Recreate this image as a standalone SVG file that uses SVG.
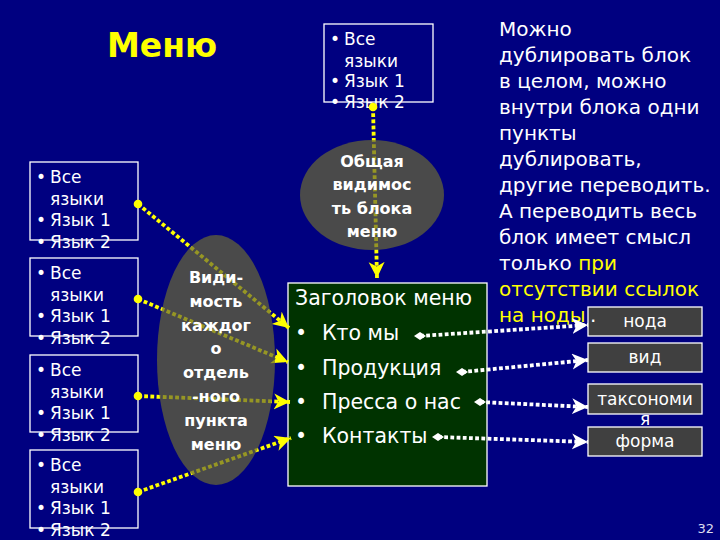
<svg xmlns="http://www.w3.org/2000/svg" width="720" height="540" viewBox="0 0 720 540">
<style>
text{font-family:"DejaVu Sans","Liberation Sans",sans-serif;fill:#fff}
.lb{fill:none;stroke:#fff;stroke-width:1.3}
.lt{font-size:17px}
.el{font-size:16px;font-weight:bold;text-anchor:middle}
.rb{fill:#404040;stroke:#fff;stroke-width:1.3}
.rt{font-size:17px;text-anchor:middle}
.gt{font-size:20.5px}
.nt{font-size:20px}
.y{fill:#ffff00}
.cy{fill:none;stroke:#ffff00;stroke-width:3.8;stroke-dasharray:3.8 2.4}
.cw{fill:none;stroke:#fff;stroke-width:3.8;stroke-dasharray:3.8 2.4}
.ell{fill:#6a6a33;fill-opacity:0.7}
</style>
<defs>
<marker id="ay" markerUnits="userSpaceOnUse" markerWidth="20" markerHeight="18" refX="16" refY="8" orient="auto" viewBox="0 0 20 18"><path d="M0,0 L16,8 L0,16 L4.5,8 Z" fill="#ffff00"/></marker>
<marker id="aw" markerUnits="userSpaceOnUse" markerWidth="20" markerHeight="18" refX="16" refY="8" orient="auto" viewBox="0 0 20 18"><path d="M0,0 L16,8 L0,16 L4.5,8 Z" fill="#ffffff"/></marker>
<marker id="dy" markerUnits="userSpaceOnUse" markerWidth="10" markerHeight="10" refX="5" refY="5" viewBox="0 0 10 10"><circle cx="5" cy="5" r="4.3" fill="#ffff00"/></marker>
<marker id="dw" markerUnits="userSpaceOnUse" markerWidth="12" markerHeight="10" refX="6" refY="5" viewBox="0 0 12 10"><path d="M0,5 L6,1 L12,5 L6,9 Z" fill="#ffffff"/></marker>
</defs>
<rect width="720" height="540" fill="#000080"/>
<g id="title"><text x="107" y="57" style="font-size:33px;font-weight:bold" class="y">Меню</text></g>
<g id="lang-1"><rect class="lb" x="30" y="162" width="108" height="78"/><text class="lt"><tspan x="36" y="183">•</tspan><tspan x="50" y="183">Все</tspan><tspan x="50" y="205">языки</tspan><tspan x="36" y="226">•</tspan><tspan x="50" y="226">Язык 1</tspan><tspan x="36" y="248">•</tspan><tspan x="50" y="248">Язык 2</tspan></text></g>
<g id="lang-2"><rect class="lb" x="30" y="258" width="108" height="78"/><text class="lt"><tspan x="36" y="279">•</tspan><tspan x="50" y="279">Все</tspan><tspan x="50" y="301">языки</tspan><tspan x="36" y="322">•</tspan><tspan x="50" y="322">Язык 1</tspan><tspan x="36" y="344">•</tspan><tspan x="50" y="344">Язык 2</tspan></text></g>
<g id="lang-3"><rect class="lb" x="30" y="355" width="108" height="77"/><text class="lt"><tspan x="36" y="376">•</tspan><tspan x="50" y="376">Все</tspan><tspan x="50" y="398">языки</tspan><tspan x="36" y="419">•</tspan><tspan x="50" y="419">Язык 1</tspan><tspan x="36" y="441">•</tspan><tspan x="50" y="441">Язык 2</tspan></text></g>
<g id="lang-4"><rect class="lb" x="30" y="450" width="108" height="78"/><text class="lt"><tspan x="36" y="471">•</tspan><tspan x="50" y="471">Все</tspan><tspan x="50" y="493">языки</tspan><tspan x="36" y="514">•</tspan><tspan x="50" y="514">Язык 1</tspan><tspan x="36" y="536">•</tspan><tspan x="50" y="536">Язык 2</tspan></text></g>
<g id="lang-top"><rect class="lb" x="324" y="24" width="109" height="78"/><text class="lt"><tspan x="330" y="45">•</tspan><tspan x="344" y="45">Все</tspan><tspan x="344" y="67">языки</tspan><tspan x="330" y="87">•</tspan><tspan x="344" y="87">Язык 1</tspan><tspan x="330" y="108">•</tspan><tspan x="344" y="108">Язык 2</tspan></text></g>
<g id="menu-block"><rect x="288" y="283" width="199" height="203" fill="#003300" stroke="#fff" stroke-width="1.3"/><text class="gt"><tspan x="295" y="305">Заголовок меню</tspan><tspan x="295" y="340">•</tspan><tspan x="322" y="340">Кто мы</tspan><tspan x="295" y="375">•</tspan><tspan x="322" y="375">Продукция</tspan><tspan x="295" y="409">•</tspan><tspan x="322" y="409">Пресса о нас</tspan><tspan x="295" y="443">•</tspan><tspan x="322" y="443">Контакты</tspan></text></g>
<g id="note"><text class="nt"><tspan x="499" y="36">Можно</tspan><tspan x="499" y="62">дублировать блок</tspan><tspan x="499" y="88">в целом, можно</tspan><tspan x="499" y="114">внутри блока одни</tspan><tspan x="499" y="140">пункты</tspan><tspan x="499" y="166">дублировать,</tspan><tspan x="499" y="192">другие переводить.</tspan><tspan x="499" y="218">А переводить весь</tspan><tspan x="499" y="244">блок имеет смысл</tspan><tspan x="499" y="270">только <tspan class="y">при</tspan></tspan><tspan x="499" y="296" class="y">отсутствии ссылок</tspan><tspan x="499" y="322" class="y">на ноды</tspan></text></g>
<g id="node"><rect class="rb" x="588" y="307" width="114" height="29"/><text class="rt" x="645" y="327">нода</text><text x="590" y="322" style="font-size:20px">.</text></g>
<g id="view"><rect class="rb" x="588" y="343" width="114" height="29"/><text class="rt" x="645" y="363">вид</text></g>
<g id="taxonomy"><rect class="rb" x="588" y="384" width="114" height="30"/><text class="rt"><tspan x="645" y="405">таксономи</tspan><tspan x="645" y="425">я</tspan></text></g>
<g id="form"><rect class="rb" x="588" y="427" width="114" height="29"/><text class="rt" x="645" y="447">форма</text></g>
<g id="connectors">
<path class="cy" d="M138,204 L289,328" marker-start="url(#dy)" marker-end="url(#ay)"/>
<path class="cy" d="M138,299 L288,362" marker-start="url(#dy)" marker-end="url(#ay)"/>
<path class="cy" d="M138,396 L290,402" marker-start="url(#dy)" marker-end="url(#ay)"/>
<path class="cy" d="M138,492 L291,438" marker-start="url(#dy)" marker-end="url(#ay)"/>
<path class="cy" d="M373,107 L377,278" marker-start="url(#dy)" marker-end="url(#ay)"/>
<path class="cw" d="M420,336 L588,325" marker-start="url(#dw)" marker-end="url(#aw)"/>
<path class="cw" d="M462,372 L588,360" marker-start="url(#dw)" marker-end="url(#aw)"/>
<path class="cw" d="M480,402 L588,407" marker-start="url(#dw)" marker-end="url(#aw)"/>
<path class="cw" d="M438,437 L588,442" marker-start="url(#dw)" marker-end="url(#aw)"/>
</g>
<g id="visibility-each"><ellipse class="ell" cx="216" cy="360" rx="59" ry="125"/><text class="el"><tspan x="216" y="283">Види-</tspan><tspan x="216" y="307">мость</tspan><tspan x="216" y="331">каждог</tspan><tspan x="216" y="354">о</tspan><tspan x="216" y="378">отдель</tspan><tspan x="216" y="402">-ного</tspan><tspan x="216" y="426">пункта</tspan><tspan x="216" y="450">меню</tspan></text></g>
<g id="visibility-block"><ellipse class="ell" cx="372" cy="195" rx="72" ry="55"/><text class="el"><tspan x="372" y="167">Общая</tspan><tspan x="372" y="190">видимос</tspan><tspan x="372" y="214">ть блока</tspan><tspan x="372" y="237">меню</tspan></text></g>
<g id="page"><text x="714" y="533" style="font-size:13px;text-anchor:end;fill:#dde">32</text></g>
</svg>
